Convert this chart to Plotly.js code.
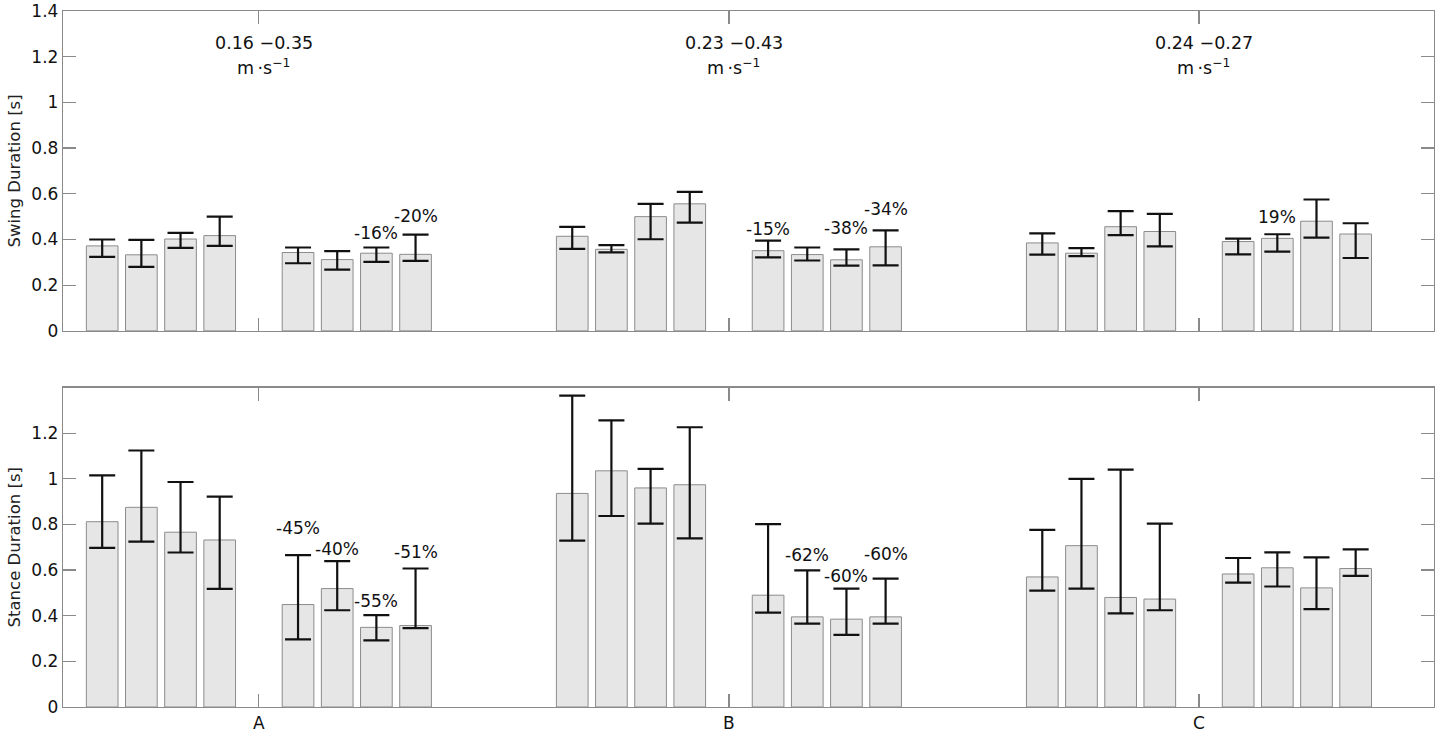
<!DOCTYPE html>
<html>
<head>
<meta charset="utf-8">
<script src="https://cdn.plot.ly/plotly-3.0.1.min.js"></script>
<style>html,body{margin:0;padding:0;background:#fff}</style>
</head>
<body>
<div id="myDiv" style="width:1439px;height:734px"></div>
<script>
// categories and speed ranges
var groups = ['A', 'B', 'C'];
var speedRanges = ['0.16 −0.35', '0.23 −0.43', '0.24 −0.27'];

// swing duration [s], one row per category, 8 bars each
var swingMean  = [[0.372, 0.333, 0.402, 0.417, 0.343, 0.312, 0.340, 0.335],
                  [0.414, 0.357, 0.500, 0.556, 0.351, 0.334, 0.311, 0.368],
                  [0.385, 0.340, 0.456, 0.435, 0.391, 0.405, 0.480, 0.424]];
var swingUpper = [[0.400, 0.398, 0.429, 0.500, 0.365, 0.349, 0.365, 0.421],
                  [0.455, 0.375, 0.556, 0.608, 0.395, 0.365, 0.357, 0.440],
                  [0.427, 0.362, 0.524, 0.512, 0.404, 0.423, 0.575, 0.471]];
var swingLower = [[0.324, 0.280, 0.363, 0.372, 0.296, 0.268, 0.302, 0.306],
                  [0.359, 0.344, 0.401, 0.474, 0.322, 0.308, 0.286, 0.287],
                  [0.334, 0.327, 0.419, 0.370, 0.335, 0.347, 0.408, 0.319]];
var swingPct   = [['', '', '', '', '', '', '-16%', '-20%'],
                  ['', '', '', '', '-15%', '', '-38%', '-34%'],
                  ['', '', '', '', '', '19%', '', '']];
var swingPctY  = [[0, 0, 0, 0, 0, 0, 0.429, 0.503],
                  [0, 0, 0, 0, 0.445, 0, 0.452, 0.532],
                  [0, 0, 0, 0, 0, 0.500, 0, 0]];

// stance duration [s]
var stanceMean  = [[0.812, 0.875, 0.766, 0.732, 0.449, 0.519, 0.349, 0.357],
                   [0.936, 1.035, 0.960, 0.974, 0.490, 0.395, 0.385, 0.395],
                   [0.570, 0.707, 0.480, 0.473, 0.583, 0.610, 0.522, 0.607]];
var stanceUpper = [[1.015, 1.124, 0.986, 0.922, 0.666, 0.639, 0.403, 0.607],
                   [1.365, 1.256, 1.044, 1.226, 0.801, 0.599, 0.519, 0.563],
                   [0.776, 1.000, 1.040, 0.804, 0.653, 0.678, 0.656, 0.691]];
var stanceLower = [[0.697, 0.725, 0.677, 0.518, 0.296, 0.424, 0.292, 0.346],
                   [0.729, 0.837, 0.804, 0.739, 0.414, 0.365, 0.316, 0.365],
                   [0.510, 0.519, 0.410, 0.424, 0.545, 0.528, 0.429, 0.575]];
var stancePct   = [['', '', '', '', '-45%', '-40%', '-55%', '-51%'],
                   ['', '', '', '', '', '-62%', '-60%', '-60%'],
                   ['', '', '', '', '', '', '', '']];
var stancePctY  = [[0, 0, 0, 0, 0.786, 0.693, 0.465, 0.681],
                   [0, 0, 0, 0, 0, 0.668, 0.572, 0.672],
                   [0, 0, 0, 0, 0, 0, 0, 0]];

// slot offsets of the 8 bars around each category centre (in 1/12 units)
var slots = [-4, -3, -2, -1, 1, 2, 3, 4];

var font = 'DejaVu Sans, Verdana, sans-serif';
var annotations = [];

function buildTrace(mean, upper, lower, pct, pctY, xa, ya) {
    var x = [], y = [], plus = [], minus = [];
    mean.forEach(function(row, g) {
        row.forEach(function(v, k) {
            var xv = g + 1 + slots[k] / 12;
            x.push(xv);
            y.push(v);
            plus.push(upper[g][k] - v);
            minus.push(v - lower[g][k]);
            if (pct[g][k]) {
                annotations.push({
                    x: xv, y: pctY[g][k], xref: xa, yref: ya,
                    text: pct[g][k], showarrow: false,
                    font: {family: font, size: 17, color: '#111'}
                });
            }
        });
    });
    return {
        type: 'bar', x: x, y: y, width: 0.0674,
        xaxis: xa, yaxis: ya,
        marker: {color: '#e6e6e6', line: {color: '#8c8c8c', width: 1}},
        error_y: {type: 'data', symmetric: false, array: plus, arrayminus: minus,
                  color: '#111', thickness: 2.2, width: 13},
        hoverinfo: 'y'
    };
}

var data = [
    buildTrace(swingMean, swingUpper, swingLower, swingPct, swingPctY, 'x', 'y'),
    buildTrace(stanceMean, stanceUpper, stanceLower, stancePct, stancePctY, 'x2', 'y2')
];

groups.forEach(function(g, i) {
    annotations.push({
        x: i + 1, y: 1.26, xref: 'x', yref: 'y', xshift: 5,
        text: speedRanges[i], showarrow: false,
        font: {family: font, size: 17.5, color: '#111'}
    });
    annotations.push({
        x: i + 1, y: 1.155, xref: 'x', yref: 'y', xshift: 5,
        text: 'm\u2009·s<sup>−1</sup>', showarrow: false,
        font: {family: font, size: 17.5, color: '#111'}
    });
});

var axisStyle = {
    showline: true, linecolor: '#8a8a8a', linewidth: 1.2, mirror: 'ticks',
    ticks: 'inside', ticklen: 13, tickcolor: '#8a8a8a', tickwidth: 1.2,
    showgrid: false, zeroline: false,
    tickfont: {family: font, size: 17, color: '#111'}
};

function ax(extra) {
    return Object.assign({}, axisStyle, extra);
}

var layout = {
    width: 1439, height: 734,
    margin: {l: 63, r: 5, t: 11, b: 27},
    paper_bgcolor: '#fff', plot_bgcolor: '#fff',
    showlegend: false,
    xaxis: ax({domain: [0, 1], anchor: 'y', range: [0.5833, 3.5],
               tickvals: [1, 2, 3], ticktext: groups, showticklabels: false}),
    xaxis2: ax({domain: [0, 1], anchor: 'y2', range: [0.5833, 3.5],
                tickvals: [1, 2, 3], ticktext: groups}),
    yaxis: ax({domain: [0.5404, 1], anchor: 'x', range: [0, 1.4],
               tickvals: [0, 0.2, 0.4, 0.6, 0.8, 1, 1.2, 1.4],
               ticktext: ['0', '0.2', '0.4', '0.6', '0.8', '1', '1.2', '1.4'],
               title: {text: 'Swing Duration [s]', standoff: 6,
                       font: {family: font, size: 16.5, color: '#222'}}}),
    yaxis2: ax({domain: [0, 0.459], anchor: 'x2', range: [0, 1.4],
                tickvals: [0, 0.2, 0.4, 0.6, 0.8, 1, 1.2],
                ticktext: ['0', '0.2', '0.4', '0.6', '0.8', '1', '1.2'],
                title: {text: 'Stance Duration [s]', standoff: 6,
                        font: {family: font, size: 16.5, color: '#222'}}}),
    annotations: annotations
};

Plotly.newPlot('myDiv', data, layout, {displayModeBar: false, staticPlot: true});
</script>
</body>
</html>
